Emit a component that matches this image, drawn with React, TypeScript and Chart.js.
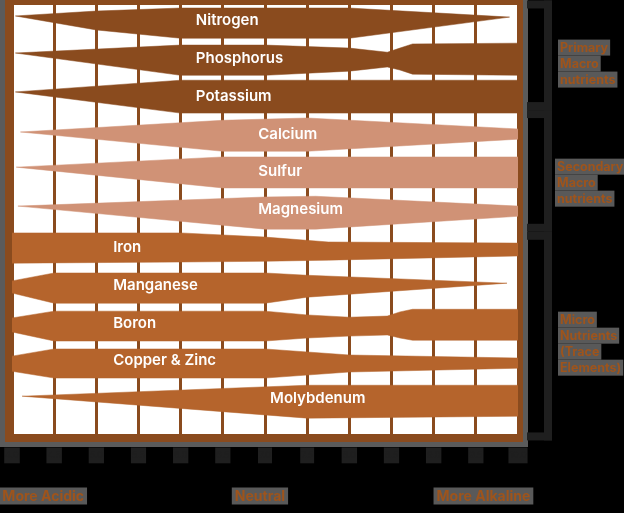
import React, { useEffect, useRef } from "react";
import { Chart, registerables } from "chart.js";

Chart.register(...registerables);

// ---- data (pH on x, row units on y: row i = nutrient i centre) ----
const nutrients = [
  "Nitrogen", "Phosphorus", "Potassium", "Calcium", "Sulfur", "Magnesium",
  "Iron", "Manganese", "Boron", "Copper & Zinc", "Molybdenum",
];
const nutrientGroup = [0, 0, 0, 1, 1, 1, 2, 2, 2, 2, 2];
const labelPh = [6.18, 6.18, 6.18, 6.92, 6.92, 6.92, 5.2, 5.2, 5.2, 5.2, 7.06];

const nitrogenPh = [4.04, 5.0, 6.0, 8.0, 9.9];
const nitrogenTop = [-0.11, -0.24, -0.32, -0.32, -0.08];
const nitrogenBottom = [-0.11, 0.26, 0.48, 0.48, -0.08];

const phosphorusPh = [4.04, 6.0, 7.0, 8.0, 8.45, 8.6, 8.75, 10];
const phosphorusTop = [0.87, 0.66, 0.66, 0.74, 0.85, 0.74, 0.63, 0.61];
const phosphorusBottom = [0.87, 1.46, 1.46, 1.35, 1.24, 1.32, 1.43, 1.46];

const potassiumPh = [4.04, 6.0, 10];
const potassiumTop = [1.9, 1.59, 1.59];
const potassiumBottom = [1.9, 2.46, 2.46];

const calciumPh = [4.1, 6.5, 7.5, 10];
const calciumTop = [2.96, 2.65, 2.59, 2.88];
const calciumBottom = [2.96, 3.47, 3.47, 3.15];

const sulfurPh = [4.05, 6.5, 10];
const sulfurTop = [3.89, 3.62, 3.62];
const sulfurBottom = [3.89, 4.44, 4.44];

const magnesiumPh = [4.07, 7.0, 7.6, 10];
const magnesiumTop = [4.92, 4.68, 4.66, 4.92];
const magnesiumBottom = [4.92, 5.53, 5.53, 5.19];

const ironPh = [4.0, 6.0, 7.0, 7.75, 10];
const ironTop = [5.63, 5.63, 5.74, 5.87, 5.9];
const ironBottom = [6.43, 6.4, 6.38, 6.35, 6.24];

const manganesePh = [4.0, 4.5, 7.0, 7.5, 9.87];
const manganeseTop = [6.9, 6.69, 6.69, 6.75, 6.96];
const manganeseBottom = [7.22, 7.49, 7.49, 7.33, 6.96];

const boronPh = [4.0, 4.5, 7.0, 7.5, 8.0, 8.45, 8.6, 8.75, 10];
const boronTop = [7.88, 7.7, 7.7, 7.8, 7.86, 7.83, 7.72, 7.65, 7.65];
const boronBottom = [8.25, 8.49, 8.49, 8.41, 8.36, 8.33, 8.41, 8.47, 8.47];

const copperZincPh = [4.0, 4.5, 7.0, 8.0, 10];
const copperZincTop = [8.89, 8.7, 8.7, 8.86, 8.94];
const copperZincBottom = [9.29, 9.47, 9.47, 9.31, 9.21];

const molybdenumPh = [4.12, 7.5, 10];
const molybdenumTop = [9.95, 9.66, 9.66];
const molybdenumBottom = [9.95, 10.53, 10.48];

const bandPh = [nitrogenPh, phosphorusPh, potassiumPh, calciumPh, sulfurPh, magnesiumPh, ironPh, manganesePh, boronPh, copperZincPh, molybdenumPh];
const bandTop = [nitrogenTop, phosphorusTop, potassiumTop, calciumTop, sulfurTop, magnesiumTop, ironTop, manganeseTop, boronTop, copperZincTop, molybdenumTop];
const bandBottom = [nitrogenBottom, phosphorusBottom, potassiumBottom, calciumBottom, sulfurBottom, magnesiumBottom, ironBottom, manganeseBottom, boronBottom, copperZincBottom, molybdenumBottom];

const groupLabels = [
  ["Primary", "Macro", "nutrients"],
  ["Secondary", "Macro", "nutrients"],
  ["Micro", "Nutrients", "(Trace", "Elements)"],
];
const groupLabelCentre = [1.15, 4.3, 8.56];
const groupBounds = [-0.52, 2.38, 5.6, 11.12];

const axisEndLabels = ["More Acidic", "Neutral", "More Alkaline"];
const axisEndLabelPh = [4.37, 6.94, 9.59];

// ---- styles ----
const BROWN = "#8a4b1e";
const SALMON = "#d09276";
const ORANGE = "#b5642c";
const groupColors = [BROWN, SALMON, ORANGE];
const FRAME_GRAY = "#5b5b5b";
const DARK = "#1f1f1f";
const LABEL_BOX = "#595959";
const LABEL_TEXT = "#9e541c";
const FONT = "Inter, 'Noto Sans', sans-serif";

const framePlugin = {
  id: "frame",
  beforeDraw(chart: any) {
    const { ctx, chartArea: a } = chart;
    const y = chart.scales.y;
    ctx.save();
    ctx.fillStyle = FRAME_GRAY;
    ctx.fillRect(a.left - 12, 0, a.right + 10 - (a.left - 12), a.bottom + 13);
    ctx.fillStyle = BROWN;
    ctx.fillRect(a.left - 7, 0, a.right + 5 - (a.left - 7), a.bottom + 8);
    ctx.fillStyle = "#ffffff";
    ctx.fillRect(a.left, a.top, a.right - a.left, a.bottom - a.top);
    // group brackets
    ctx.fillStyle = DARK;
    for (let g = 0; g < 3; g++) {
      const y0 = y.getPixelForValue(groupBounds[g]);
      const y1 = y.getPixelForValue(groupBounds[g + 1]);
      const x0 = a.right + 9;
      const x1 = a.right + 34;
      ctx.fillRect(x0, y0, x1 - x0, 8);
      ctx.fillRect(x0, y1 - 8, x1 - x0, 8);
      ctx.fillRect(x1 - 8, y0, 8, y1 - y0);
    }
    ctx.restore();
  },
};

function drawBoxedText(ctx: any, text: string, x: number, y: number, align: string, font: string, padX: number, h: number) {
  ctx.font = font;
  const w = ctx.measureText(text).width;
  let left = x;
  if (align === "center") left = x - w / 2;
  ctx.fillStyle = LABEL_BOX;
  ctx.fillRect(left - padX, y - h / 2, w + padX * 2, h);
  ctx.fillStyle = LABEL_TEXT;
  ctx.textAlign = "left";
  ctx.textBaseline = "middle";
  ctx.fillText(text, left, y + 0.5);
}

const labelPlugin = {
  id: "labels",
  afterDraw(chart: any) {
    const { ctx, chartArea: a } = chart;
    const xs = chart.scales.x;
    const ys = chart.scales.y;
    ctx.save();
    // nutrient names
    ctx.fillStyle = "#ffffff";
    ctx.font = `600 15px ${FONT}`;
    ctx.textAlign = "left";
    ctx.textBaseline = "middle";
    nutrients.forEach((n, i) => {
      ctx.fillText(n, xs.getPixelForValue(labelPh[i]), ys.getPixelForValue(i) + 0.5);
    });
    // group labels on the right
    const lf = `bold 12.5px ${FONT}`;
    groupLabels.forEach((lines, g) => {
      const cy = ys.getPixelForValue(groupLabelCentre[g]);
      const n = lines.length;
      lines.forEach((t, k) => {
        const ly = cy + (k - (n - 1) / 2) * 16;
        drawBoxedText(ctx, t, a.right + (g === 1 ? 39 : 42), ly, "left", lf, 2, 16);
      });
    });
    // axis end labels
    const bf = `bold 14px ${FONT}`;
    axisEndLabels.forEach((t, i) => {
      drawBoxedText(ctx, t, xs.getPixelForValue(axisEndLabelPh[i]), a.bottom + 62, "center", bf, 3, 17);
    });
    ctx.restore();
  },
};

export default function App() {
  const ref = useRef<HTMLCanvasElement | null>(null);
  useEffect(() => {
    if (!ref.current) return;
    const datasets: any[] = [];
    nutrients.forEach((n, i) => {
      const color = groupColors[nutrientGroup[i]];
      datasets.push({
        label: n + " top",
        data: bandPh[i].map((p, k) => ({ x: p, y: bandTop[i][k] })),
        borderColor: color,
        borderWidth: 0.5,
        pointRadius: 0,
        fill: false,
        tension: 0,
      });
      datasets.push({
        label: n,
        data: bandPh[i].map((p, k) => ({ x: p, y: bandBottom[i][k] })),
        borderColor: color,
        backgroundColor: color,
        borderWidth: 0.5,
        pointRadius: 0,
        fill: "-1",
        tension: 0,
      });
    });
    const chart = new Chart(ref.current, {
      type: "line",
      data: { datasets },
      options: {
        animation: false,
        responsive: false,
        layout: { padding: { left: 12, right: 106, top: 5, bottom: 0 } },
        plugins: { legend: { display: false }, tooltip: { enabled: false } },
        scales: {
          x: {
            type: "linear",
            min: 4,
            max: 10,
            afterFit: (s: any) => { s.height = 79; s.paddingLeft = 0; s.paddingRight = 0; },
            border: { display: false },
            grid: { color: BROWN, lineWidth: 3, drawTicks: false, drawOnChartArea: true },
            ticks: {
              stepSize: 0.5,
              autoSkip: false,
              maxRotation: 0,
              padding: 16,
              color: DARK,
              font: { size: 9, family: FONT },
              showLabelBackdrop: true,
              backdropColor: DARK,
              backdropPadding: { top: 2.5, bottom: 2.5, left: 1, right: 1 },
              callback: (v: any) => Number(v).toFixed(1),
            },
          },
          y: { type: "linear", reverse: true, min: -0.4, max: 10.95, display: false },
        },
      },
      plugins: [framePlugin, labelPlugin],
    } as any);
    return () => chart.destroy();
  }, []);
  return (
    <div style={{ position: "fixed", inset: 0, background: "#000" }}>
      <canvas ref={ref} width={624} height={513} style={{ display: "block", width: 624, height: 513 }} />
    </div>
  );
}
